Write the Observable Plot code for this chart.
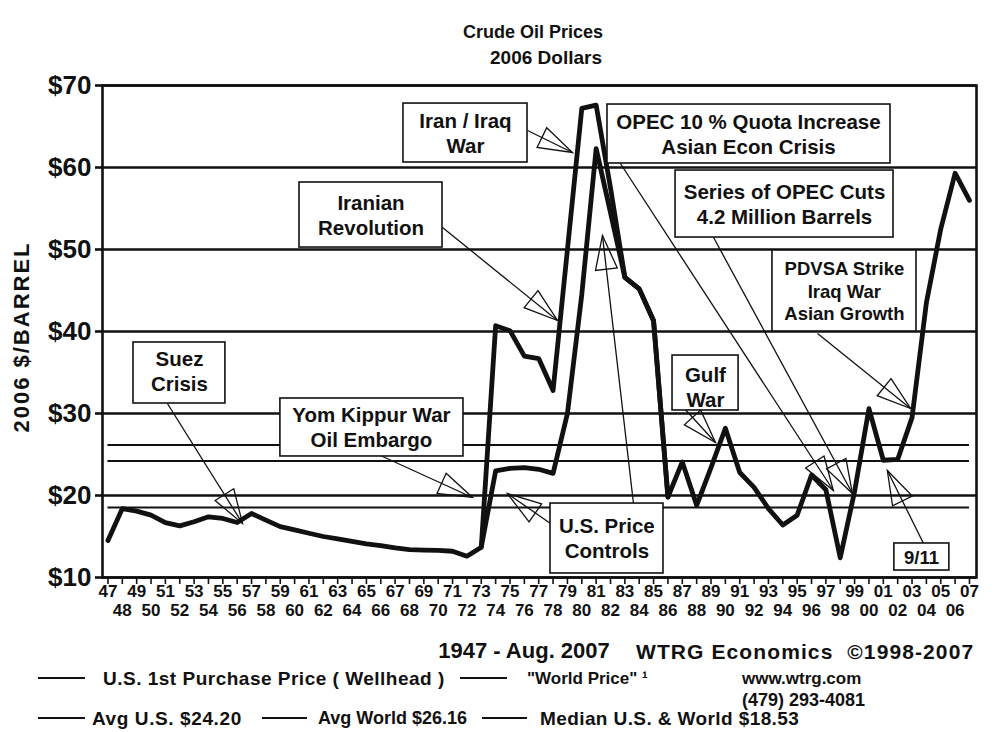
<!DOCTYPE html>
<html><head><meta charset="utf-8">
<script src="https://cdn.jsdelivr.net/npm/d3@7"></script>
<script src="https://cdn.jsdelivr.net/npm/@observablehq/plot@0.6"></script>
<style>
body{margin:0;background:#fff;}
#wrap{position:relative;width:1001px;height:732px;overflow:hidden;font-family:"Liberation Sans",Arial,sans-serif;font-weight:bold;color:#111;}
#wrap svg{position:absolute;left:0;top:0;}
.t{position:absolute;white-space:pre;line-height:1;transform:translateY(-50%);}
.c{transform:translate(-50%,-50%);}
.sw{position:absolute;height:2px;background:#111;}
</style></head><body><div id="wrap"></div>
<script>
// ---- data ----
const years = d3.range(1947, 2008);
const usPrice = [
  14.5, 18.4, 18.1, 17.6, 16.7, 16.3, 16.8, 17.4, 17.2, 16.7,
  17.8, 17.0, 16.2, 15.8, 15.4, 15.0, 14.7, 14.4, 14.1, 13.9,
  13.6, 13.4, 13.35, 13.3, 13.2, 12.6, 13.7, 23.0, 23.3, 23.4,
  23.2, 22.7, 30.0, 44.5, 62.3, 54.5, 46.6, 45.2, 41.3, 19.8,
  24.1, 18.8, 23.4, 28.2, 22.8, 21.0, 18.4, 16.4, 17.6, 22.5,
  20.7, 12.4, 20.5, 30.6, 24.3, 24.4, 29.5, 43.5, 52.5, 59.3,
  56.0];
const worldYears = d3.range(1973, 1987);
const worldPrice = [13.7, 40.7, 40.1, 37.0, 36.7, 32.8, 50.0, 67.2, 67.6, 57.5, 46.6, 45.2, 41.3, 19.8];
const averageNames = ["Avg U.S.", "Avg World", "Median U.S. & World"];
const averageValues = [24.20, 26.16, 18.53];
const yTicks = [10, 20, 30, 40, 50, 60, 70];
const oddYears = years.filter(y => y % 2 === 1);
const evenYears = years.filter(y => y % 2 === 0);

// annotation boxes: label, centre (year, $), box extent (year, $)
const annotations = [
  {label: "Suez\nCrisis", cx: 1951.98, cy: 35.24, x1: 1948.78, x2: 1955.18, y1: 38.66, y2: 31.22},
  {label: "Yom Kippur War\nOil Embargo", cx: 1965.35, cy: 28.4, x1: 1959.01, x2: 1971.76, y1: 31.83, y2: 24.76},
  {label: "Iranian\nRevolution", cx: 1965.32, cy: 54.27, x1: 1960.34, x2: 1970.30, y1: 58.17, y2: 50.24},
  {label: "Iran / Iraq\nWar", cx: 1971.90, cy: 64.27, x1: 1967.58, x2: 1976.22, y1: 67.80, y2: 60.61},
  {label: "OPEC 10 % Quota Increase\nAsian Econ Crisis", cx: 1991.61, cy: 64.1, x1: 1981.79, x2: 2001.50, y1: 67.68, y2: 60.49},
  {label: "Series of OPEC Cuts\n4.2 Million Barrels", cx: 1994.12, cy: 55.61, x1: 1986.53, x2: 2001.71, y1: 59.63, y2: 51.46},
  {label: "PDVSA Strike\nIraq War\nAsian Growth", cx: 1998.29, cy: 45.0, x1: 1993.28, x2: 2003.31, y1: 49.88, y2: 40.0},
  {label: "Gulf\nWar", cx: 1988.61, cy: 33.3, x1: 1986.32, x2: 1990.92, y1: 37.07, y2: 30.37},
  {label: "9/11", cx: 2003.66, cy: 12.5, x1: 2001.77, x2: 2005.60, y1: 14.15, y2: 10.85},
  {label: "U.S. Price\nControls", cx: 1981.75, cy: 14.88, x1: 1977.82, x2: 1985.69, y1: 19.02, y2: 10.49}
];
// arrows: from (year, $) to (year, $)
const arrows = [
  {x1: 1951.14, y1: 31.22, x2: 1956.37, y2: 16.59},
  {x1: 1965.98, y1: 24.88, x2: 1972.39, y2: 19.76},
  {x1: 1970.30, y1: 52.68, x2: 1978.31, y2: 41.34},
  {x1: 1976.22, y1: 64.51, x2: 1979.35, y2: 61.83},
  {x1: 1982.69, y1: 60.49, x2: 1997.52, y2: 20.61},
  {x1: 1989.18, y1: 51.46, x2: 1998.85, y2: 20.24},
  {x1: 1996.42, y1: 39.76, x2: 2002.90, y2: 30.61},
  {x1: 1987.08, y1: 30.73, x2: 1989.31, y2: 26.46},
  {x1: 2003.80, y1: 14.15, x2: 2001.28, y2: 23.05},
  {x1: 1983.60, y1: 19.02, x2: 1981.44, y2: 51.71},
  {x1: 1977.82, y1: 16.59, x2: 1974.82, y2: 20.24}
];

// ---- tables ----
const us = years.map((year, i) => ({year, price: usPrice[i]}));
const world = worldYears.map((year, i) => ({year, price: worldPrice[i]}));
const averages = averageNames.map((name, i) => ({name, value: averageValues[i]}));
const isSmallNote = a => a.label.startsWith("PDVSA") || a.label === "9/11";

const ink = "#111";
const chart = Plot.plot({
  width: 1001, height: 732,
  marginLeft: 102, marginRight: 25, marginTop: 85, marginBottom: 155,
  style: {fontFamily: "'Liberation Sans', Arial, sans-serif", background: "transparent", color: ink},
  x: {domain: [1946.62, 2007.49], axis: null},
  y: {domain: [10, 70], axis: null},
  marks: [
    Plot.ruleY(averages, {y: "value", x1: () => years[0], x2: () => years[years.length - 1], stroke: ink, strokeWidth: 2}),
    Plot.ruleY(yTicks, {stroke: ink, strokeWidth: 2.6}),
    Plot.frame({stroke: ink, strokeWidth: 2.6}),
    Plot.axisY(yTicks, {tickFormat: d => "$" + d, tickSize: 7, tickPadding: 4, strokeWidth: 2.6, fontSize: 26, fontWeight: "bold", label: null}),
    Plot.axisX(oddYears, {tickSize: 7, tickPadding: 0, strokeWidth: 1.6, tickFormat: d => String(d).slice(2), fontSize: 17, fontWeight: "bold", label: null}),
    Plot.axisX(evenYears, {tickSize: 7, tickPadding: 19, strokeWidth: 1.6, tickFormat: d => String(d).slice(2), fontSize: 17, fontWeight: "bold", label: null}),
    Plot.line(us, {x: "year", y: "price", stroke: ink, strokeWidth: 4.8, strokeLinejoin: "round"}),
    Plot.line(world, {x: "year", y: "price", stroke: ink, strokeWidth: 4.8, strokeLinejoin: "round"}),
    Plot.link(arrows, {x1: "x1", y1: "y1", x2: "x2", y2: "y2", stroke: ink, strokeWidth: 1.3}),
    Plot.rect(annotations, {x1: "x1", x2: "x2", y1: "y1", y2: "y2", fill: "white", stroke: ink, strokeWidth: 1.6}),
    Plot.text(annotations.filter(a => !isSmallNote(a)), {x: "cx", y: "cy", text: "label", fontSize: 20.5, fontWeight: "bold", lineHeight: 1.2, fill: ink}),
    Plot.text(annotations.filter(isSmallNote), {x: "cx", y: "cy", text: "label", fontSize: 18.5, fontWeight: "bold", lineHeight: 1.22, fill: ink})
  ]
});

// open triangle arrowheads on the links
const svg = d3.select(chart);
const defs = svg.insert("defs", ":first-child");
defs.append("marker").attr("id", "openTri")
  .attr("viewBox", "-3 -3 40 28").attr("refX", 34).attr("refY", 11)
  .attr("markerWidth", 40).attr("markerHeight", 28)
  .attr("markerUnits", "userSpaceOnUse").attr("orient", "auto")
  .append("path").attr("d", "M0,0L34,11L0,22Z")
  .attr("fill", "none").attr("stroke", ink).attr("stroke-width", 1.3).attr("stroke-linejoin", "miter");
svg.selectAll("g[aria-label='link'] path, g[aria-label='link'] line").attr("marker-end", "url(#openTri)");

const wrap = document.getElementById("wrap");
wrap.appendChild(chart);

function txt(s, x, y, size, center, extra) {
  const d = document.createElement("div");
  d.className = "t" + (center ? " c" : "");
  d.textContent = s;
  d.style.left = x + "px"; d.style.top = y + "px"; d.style.fontSize = size + "px";
  if (extra) Object.assign(d.style, extra);
  wrap.appendChild(d);
  return d;
}
function sw(x1, x2, y) {
  const d = document.createElement("div");
  d.className = "sw";
  d.style.left = x1 + "px"; d.style.width = (x2 - x1) + "px"; d.style.top = (y - 1) + "px";
  wrap.appendChild(d);
}
txt("Crude Oil Prices", 533, 32, 18, true);
txt("2006 Dollars", 546, 57, 19, true);
txt("2006 $/BARREL", 22, 337, 22, true, {transform: "translate(-50%,-50%) rotate(-90deg)", letterSpacing: "2px"});
txt("1947 - Aug. 2007", 524, 651, 22, true);
txt("WTRG Economics  ©1998-2007", 636, 651, 21, false, {letterSpacing: "1.1px"});
sw(38, 85, 678);
txt("U.S. 1st Purchase Price ( Wellhead )", 103, 678, 19, false, {letterSpacing: "0.5px"});
sw(460, 507, 678);
txt("\"World Price\" \u00b9", 527, 678, 17, false);
txt("www.wtrg.com", 742, 678, 17, false);
txt("(479) 293-4081", 742, 700, 18, false);
sw(38, 85, 718);
txt("Avg U.S. $24.20", 92, 718, 19, false, {letterSpacing: "0.6px"});
sw(262, 307, 718);
txt("Avg World $26.16", 318, 718, 18, false);
sw(482, 527, 718);
txt("Median U.S. & World $18.53", 540, 718, 19, false, {letterSpacing: "0.4px"});
</script></body></html>
